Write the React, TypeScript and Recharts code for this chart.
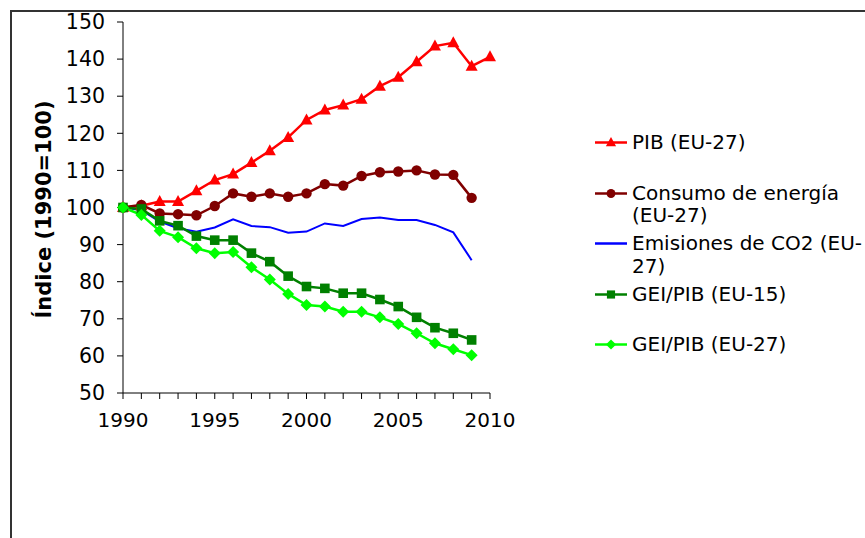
import React from 'react';
import { LineChart, Line, XAxis, YAxis, Legend } from 'recharts';

// años y series (índice 1990 = 100)
const years = [1990, 1991, 1992, 1993, 1994, 1995, 1996, 1997, 1998, 1999, 2000, 2001, 2002, 2003, 2004, 2005, 2006, 2007, 2008, 2009, 2010];
const pib = [100, 100.5, 101.6, 101.6, 104.5, 107.4, 109, 112.1, 115.3, 118.9, 123.6, 126.3, 127.6, 129.2, 132.7, 135.1, 139.3, 143.5, 144.4, 138.1, 140.6];
const consumo = [100, 100.7, 98.4, 98.2, 97.9, 100.4, 103.8, 102.9, 103.8, 102.9, 103.8, 106.3, 105.9, 108.5, 109.5, 109.7, 110, 108.9, 108.8, 102.6, null];
const co2 = [100, 99.3, 96.2, 94.4, 93.5, 94.6, 96.8, 95, 94.7, 93.2, 93.5, 95.7, 95, 96.9, 97.3, 96.6, 96.6, 95.3, 93.3, 85.8, null];
const gei15 = [100, 99.6, 96.4, 95.1, 92.3, 91.2, 91.2, 87.7, 85.4, 81.5, 78.7, 78.2, 76.9, 76.9, 75.2, 73.3, 70.4, 67.6, 66.1, 64.3, null];
const gei27 = [100, 98, 93.7, 92, 89, 87.7, 88, 83.9, 80.6, 76.7, 73.7, 73.3, 71.9, 71.9, 70.4, 68.6, 66.1, 63.4, 61.8, 60.2, null];

const yTicks = [50, 60, 70, 80, 90, 100, 110, 120, 130, 140, 150];
const yearLabels = [1990, 1995, 2000, 2005, 2010];
const legendOrder = ['pib', 'consumo', 'co2', 'gei15', 'gei27'];

const data = years.map((year, i) => ({
  year,
  pib: pib[i],
  consumo: consumo[i],
  co2: co2[i],
  gei15: gei15[i],
  gei27: gei27[i],
}));

const FONT = '"DejaVu Sans", Verdana, sans-serif';

type Shape = 'triangle' | 'circle' | 'square' | 'diamond' | 'none';

const shapes: Record<string, Shape> = {
  pib: 'triangle',
  consumo: 'circle',
  co2: 'none',
  gei15: 'square',
  gei27: 'diamond',
};

const Marker = ({ shape, cx, cy, color, s = 1 }: { shape: Shape; cx: number; cy: number; color: string; s?: number }) => {
  if (shape === 'triangle') {
    return <polygon points={`${cx},${cy - 6.5 * s} ${cx + 6 * s},${cy + 4.5 * s} ${cx - 6 * s},${cy + 4.5 * s}`} fill={color} />;
  }
  if (shape === 'circle') return <circle cx={cx} cy={cy} r={5.2 * s} fill={color} />;
  if (shape === 'square') return <rect x={cx - 4.8 * s} y={cy - 4.8 * s} width={9.6 * s} height={9.6 * s} fill={color} />;
  if (shape === 'diamond') {
    return <polygon points={`${cx},${cy - 6 * s} ${cx + 6 * s},${cy} ${cx},${cy + 6 * s} ${cx - 6 * s},${cy}`} fill={color} />;
  }
  return null;
};

const makeDot = (shape: Shape, color: string) => (props: any) => {
  const { cx, cy, index } = props;
  if (cx == null || cy == null || props.value == null) return <g key={`d-${index}`} />;
  return (
    <g key={`d-${index}`}>
      <Marker shape={shape} cx={cx} cy={cy} color={color} />
    </g>
  );
};

const YearTick = (props: any) => {
  const { x, y, payload } = props;
  if (!yearLabels.includes(payload.value)) return null;
  return (
    <text x={x} y={y} dy={26} textAnchor="middle" fontSize={20} fontFamily={FONT} fill="#000">
      {payload.value}
    </text>
  );
};

const renderLegend = (props: any) => {
  const payload = [...(props.payload || [])].sort(
    (a: any, b: any) => legendOrder.indexOf(a.dataKey) - legendOrder.indexOf(b.dataKey)
  );
  return (
    <ul style={{ listStyle: 'none', margin: 0, padding: 0, fontFamily: FONT, fontSize: 20, color: '#000' }}>
      {payload.map((entry: any, i: number) => (
        <li key={`l-${i}`} style={{ display: 'flex', height: 50.5, lineHeight: '22.5px' }}>
          <svg width={37} height={22.5} style={{ flex: 'none' }}>
            <line x1={0} y1={11.5} x2={32} y2={11.5} stroke={entry.color} strokeWidth={2.5} />
            <Marker shape={shapes[entry.dataKey]} cx={16} cy={11.5} color={entry.color} s={0.85} />
          </svg>
          <div style={{ width: 240, flex: 'none' }}>{entry.value}</div>
        </li>
      ))}
    </ul>
  );
};

const YLabel = (props: any) => {
  const { viewBox } = props;
  const cx = viewBox.x + 44;
  const cy = viewBox.y + viewBox.height / 2 + 2;
  return (
    <text
      x={cx}
      y={cy}
      transform={`rotate(-90 ${cx} ${cy})`}
      textAnchor="middle"
      dominantBaseline="central"
      fontSize={21}
      fontWeight="bold"
      fontFamily={FONT}
      fill="#000"
    >
      Índice (1990=100)
    </text>
  );
};

export default function App() {
  return (
    <div style={{ position: 'relative', width: 865, height: 538, overflow: 'hidden', background: '#fff' }}>
      <style>{'body{margin:0;}'}</style>
      <div style={{ position: 'absolute', left: 10, top: 10, width: 900, height: 600, border: '2px solid #333' }} />
      <div style={{ position: 'absolute', left: 0, top: 0 }}>
        <LineChart width={865} height={538} data={data} margin={{ top: 22, right: 375, bottom: 115, left: 0 }}>
          <XAxis
            dataKey="year"
            type="number"
            domain={[1990, 2010]}
            ticks={years}
            interval={0}
            height={30}
            tick={<YearTick />}
            tickSize={6}
            axisLine={{ stroke: '#000', strokeWidth: 1 }}
            tickLine={{ stroke: '#000', strokeWidth: 1 }}
          />
          <YAxis
            type="number"
            domain={[50, 150]}
            ticks={yTicks}
            interval={0}
            width={123}
            tickSize={6}
            tickMargin={12}
            tick={{ fontSize: 20.5, fontFamily: FONT, fill: '#000' }}
            axisLine={{ stroke: '#000', strokeWidth: 1 }}
            tickLine={{ stroke: '#000', strokeWidth: 1 }}
            label={<YLabel />}
          />
          <Legend
            content={renderLegend}
            layout="horizontal"
            verticalAlign="middle"
            align="center"
            wrapperStyle={{ left: 595, top: 131, width: 280 }}
          />
          <Line dataKey="pib" name="PIB (EU-27)" stroke="#ff0000" strokeWidth={2.5} dot={makeDot('triangle', '#ff0000')} activeDot={false} isAnimationActive={false} />
          <Line dataKey="consumo" name="Consumo de energía (EU-27)" stroke="#800000" strokeWidth={2.5} dot={makeDot('circle', '#800000')} activeDot={false} isAnimationActive={false} />
          <Line dataKey="co2" name="Emisiones de CO2 (EU-27)" stroke="#0000ff" strokeWidth={2} dot={false} activeDot={false} isAnimationActive={false} />
          <Line dataKey="gei15" name="GEI/PIB (EU-15)" stroke="#008000" strokeWidth={2.5} dot={makeDot('square', '#008000')} activeDot={false} isAnimationActive={false} />
          <Line dataKey="gei27" name="GEI/PIB (EU-27)" stroke="#00ff00" strokeWidth={2.5} dot={makeDot('diamond', '#00ff00')} activeDot={false} isAnimationActive={false} />
        </LineChart>
      </div>
    </div>
  );
}
